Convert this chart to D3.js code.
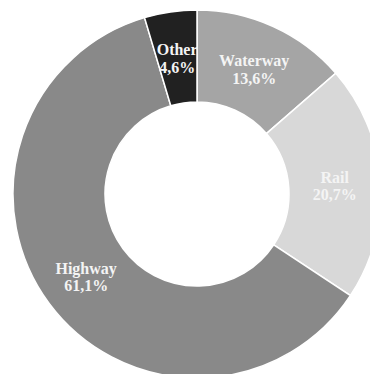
<!DOCTYPE html>
<html><head><meta charset="utf-8">
<script src="https://cdn.jsdelivr.net/npm/d3@7"></script>
<style>html,body{margin:0;padding:0;background:#fff;overflow:hidden}</style>
</head><body>
<svg id="c" width="370" height="374"></svg>
<script>
const categories = ["Waterway", "Rail", "Highway", "Other"];
const values = [13.6, 20.7, 61.1, 4.6];
const labels = ["13,6%", "20,7%", "61,1%", "4,6%"];
const colors = ["#a5a5a5", "#d8d8d8", "#898989", "#212121"];

const svg = d3.select("#c");
const cx = 197, cy = 194, rOuter = 184, rInner = 92;
const g = svg.append("g").attr("transform", `translate(${cx},${cy})`);

const pie = d3.pie().sort(null).value(d => d.v);
const data = categories.map((c, i) => ({c, v: values[i], l: labels[i], col: colors[i]}));
const arcs = pie(data);
const arc = d3.arc().innerRadius(rInner).outerRadius(rOuter);
const labelArc = d3.arc().innerRadius(138).outerRadius(138);

g.selectAll("path").data(arcs).join("path")
  .attr("d", arc)
  .attr("fill", d => d.data.col)
  .attr("stroke", "#fff")
  .attr("stroke-width", 1.5);

const t = g.selectAll("text").data(arcs).join("text")
  .attr("transform", d => { const [x, y] = labelArc.centroid(d); return `translate(${x},${y})`; })
  .attr("text-anchor", "middle")
  .attr("font-family", "'Liberation Serif','Times New Roman',serif")
  .attr("font-weight", "bold")
  .attr("font-size", 16)
  .attr("fill", "#f4f4f4");
t.append("tspan").attr("x", 0).attr("dy", "-0.15em").text(d => d.data.c);
t.append("tspan").attr("x", 0).attr("dy", "1.1em").text(d => d.data.l);
</script>
</body></html>
